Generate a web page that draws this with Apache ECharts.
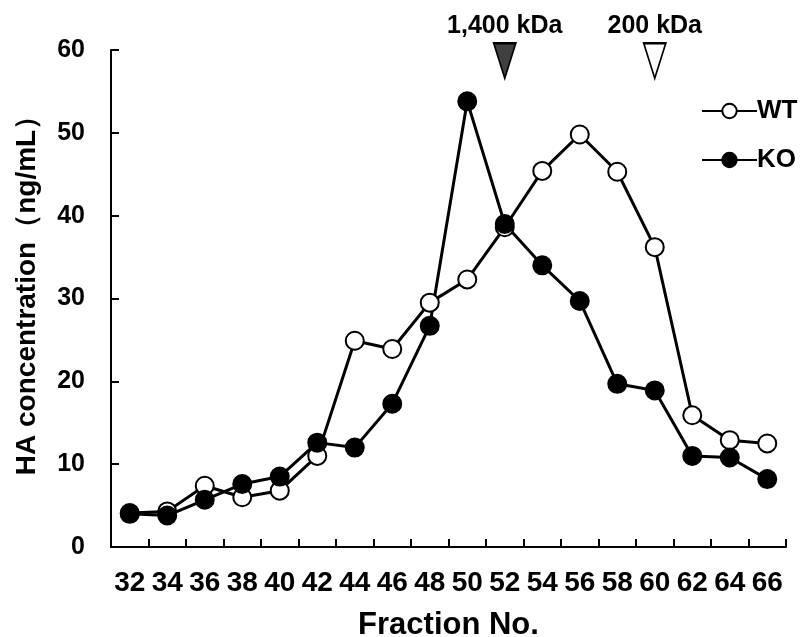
<!DOCTYPE html>
<html>
<head>
<meta charset="utf-8">
<script src="https://cdn.jsdelivr.net/npm/echarts@6/dist/echarts.min.js"></script>
<style>
  html, body { margin: 0; padding: 0; background: #fff; }
  #chart { width: 804px; height: 637px; }
</style>
</head>
<body>
<div id="chart"></div>
<script>
  // fraction numbers
  const fractions = ['32', '34', '36', '38', '40', '42', '44', '46', '48', '50', '52', '54', '56', '58', '60', '62', '64', '66'];
  // HA concentration (ng/mL)
  const wtValues = [4.1, 4.3, 7.4, 6.0, 6.8, 11.0, 24.9, 23.9, 29.5, 32.3, 38.6, 45.4, 49.8, 45.3, 36.2, 15.9, 12.9, 12.5];
  const koValues = [4.0, 3.8, 5.7, 7.6, 8.5, 12.6, 12.0, 17.3, 26.7, 53.8, 39.0, 34.0, 29.7, 19.7, 18.9, 11.0, 10.8, 8.2];
  // molecular weight markers
  const markerFractions = ['52', '60'];
  const markerLabels = ['1,400 kDa', '200 kDa'];
  const markerY = [58.7, 58.7];
  const markerFills = ['#404040', '#ffffff'];

  const font = 'Arial, "Liberation Sans", sans-serif';
  const chart = echarts.init(document.getElementById('chart'));

  const option = {
    animation: false,
    backgroundColor: '#fff',
    grid: {
      left: 111,
      right: 18,
      top: 50,
      bottom: 90,
      containLabel: false,
      outerBoundsMode: 'none',
    },
    legend: {
      data: ['WT', 'KO'],
      orient: 'vertical',
      left: 696,
      top: 93,
      itemWidth: 55,
      itemHeight: 18,
      itemGap: 23,
      textStyle: {
        fontFamily: font,
        fontWeight: 'bold',
        fontSize: 26,
        color: '#000',
        padding: [0, 0, 0, -5],
      },
    },
    xAxis: {
      type: 'category',
      data: fractions,
      boundaryGap: true,
      name: 'Fraction No.',
      nameLocation: 'middle',
      nameGap: 63,
      nameTextStyle: {
        fontFamily: font,
        fontWeight: 'bold',
        fontSize: 31,
        color: '#000',
      },
      axisLine: { lineStyle: { color: '#000', width: 2 } },
      axisTick: { show: true, inside: true, length: 8, lineStyle: { color: '#000', width: 2 } },
      axisLabel: {
        margin: 22,
        fontFamily: font,
        fontWeight: 'bold',
        fontSize: 28,
        color: '#000',
        interval: 0,
      },
      splitLine: { show: false },
    },
    yAxis: {
      type: 'value',
      min: 0,
      max: 60,
      interval: 10,
      name: 'HA concentration（ng/mL）',
      nameLocation: 'middle',
      nameRotate: 90,
      nameGap: 70,
      nameTextStyle: {
        fontFamily: font,
        fontWeight: 'bold',
        fontSize: 28,
        color: '#000',
        padding: [0, 0, 0, 20],
      },
      axisLine: { show: true, lineStyle: { color: '#000', width: 2 } },
      axisTick: { show: true, inside: true, length: 8, lineStyle: { color: '#000', width: 2 } },
      axisLabel: {
        margin: 26,
        fontFamily: font,
        fontWeight: 'bold',
        fontSize: 25,
        color: '#000',
      },
      splitLine: { show: false },
    },
    series: [
      {
        name: 'WT',
        type: 'line',
        data: wtValues,
        symbol: 'circle',
        symbolSize: 18,
        showAllSymbol: true,
        lineStyle: { color: '#000', width: 3 },
        itemStyle: { color: '#fff', borderColor: '#000', borderWidth: 2 },
      },
      {
        name: 'KO',
        type: 'line',
        data: koValues,
        symbol: 'circle',
        symbolSize: 18,
        showAllSymbol: true,
        lineStyle: { color: '#000', width: 3 },
        itemStyle: { color: '#000', borderColor: '#000', borderWidth: 2 },
      },
      {
        name: 'markers',
        type: 'scatter',
        clip: false,
        symbol: 'path://M0,0 L10,0 L5,16 Z',
        symbolSize: [22, 35],
        itemStyle: { opacity: 1 },
        data: markerFractions.map((f, i) => ({
          value: [f, markerY[i]],
          itemStyle: { color: markerFills[i], borderColor: '#000', borderWidth: 2, opacity: 1 },
          label: { formatter: markerLabels[i] },
        })),
        label: {
          show: true,
          position: 'top',
          distance: 3,
          fontFamily: font,
          fontWeight: 'bold',
          fontSize: 25,
          color: '#000',
        },
        z: 5,
      },
    ],
  };

  chart.setOption(option);
</script>
</body>
</html>
